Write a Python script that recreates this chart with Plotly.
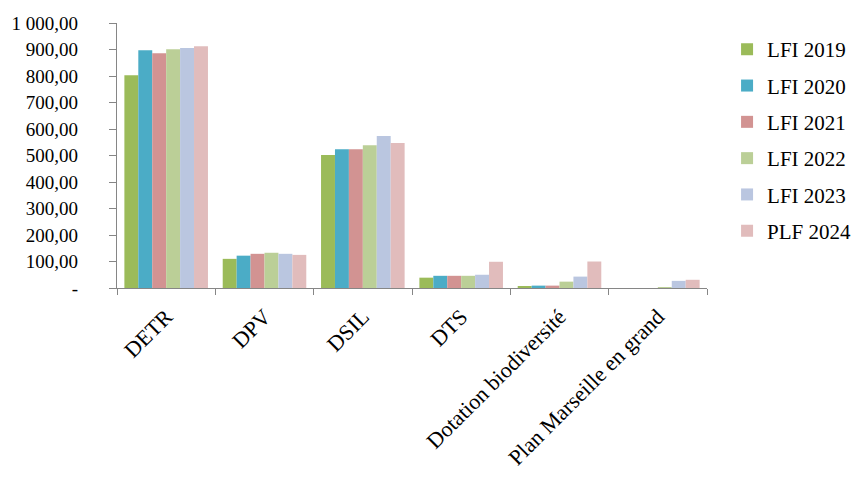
import plotly.graph_objects as go

categories = ["DETR", "DPV", "DSIL", "DTS", "Dotation biodiversité", "Plan Marseille en grand"]
series_names = ["LFI 2019", "LFI 2020", "LFI 2021", "LFI 2022", "LFI 2023", "PLF 2024"]
lfi_2019 = [803, 110, 502, 39, 5, 0]
lfi_2020 = [897, 122, 524, 46, 9, 0]
lfi_2021 = [886, 129, 524, 46, 9, 0]
lfi_2022 = [901, 133, 539, 46, 24, 3]
lfi_2023 = [906, 129, 574, 50, 43, 27]
plf_2024 = [912, 125, 547, 99, 100, 31]
y_tickvals = [0, 100, 200, 300, 400, 500, 600, 700, 800, 900, 1000]
y_ticktext = ["-", "100,00", "200,00", "300,00", "400,00", "500,00",
              "600,00", "700,00", "800,00", "900,00", "1 000,00"]

series = [lfi_2019, lfi_2020, lfi_2021, lfi_2022, lfi_2023, plf_2024]
colors = ["#9BBB59", "#4BACC6", "#D29392", "#BBCF97", "#BAC6E0", "#E1BCBC"]

FONT = "Liberation Serif"

fig = go.Figure()
for i, (name, vals) in enumerate(zip(series_names, series)):
    fig.add_trace(go.Bar(
        x=categories,
        y=vals,
        name=name,
        marker_color=colors[i],
        marker_line_width=0,
        legendgroup=f"g{i}",
    ))

# page body adds an 8px offset, margins compensate for it
fig.update_layout(
    width=862,
    height=489,
    barmode="group",
    bargap=0.15,
    bargroupgap=0,
    plot_bgcolor="white",
    paper_bgcolor="white",
    font=dict(family=FONT, size=20, color="#000000"),
    margin=dict(l=109, r=163, t=15, b=209),
    legend=dict(
        x=1.034, y=0.977, xanchor="left", yanchor="top",
        tracegroupgap=6,
        font=dict(family=FONT, size=21),
        itemwidth=30,
    ),
)
fig.update_xaxes(
    showline=True, linecolor="#868686", linewidth=1.3,
    ticks="outside", tickson="boundaries", ticklen=6, tickcolor="#868686",
    tickangle=-45,
    ticklabelstandoff=6,
    tickfont=dict(family=FONT, size=22),
    automargin=False,
)
fig.update_yaxes(
    range=[0, 1000],
    showline=True, linecolor="#868686", linewidth=1.3,
    showgrid=False, zeroline=False,
    ticks="outside", ticklen=7, tickcolor="#868686",
    ticklabelstandoff=27,
    tickvals=y_tickvals, ticktext=y_ticktext,
    tickfont=dict(family=FONT, size=19),
    automargin=False,
)

fig.write_html("out.html")
